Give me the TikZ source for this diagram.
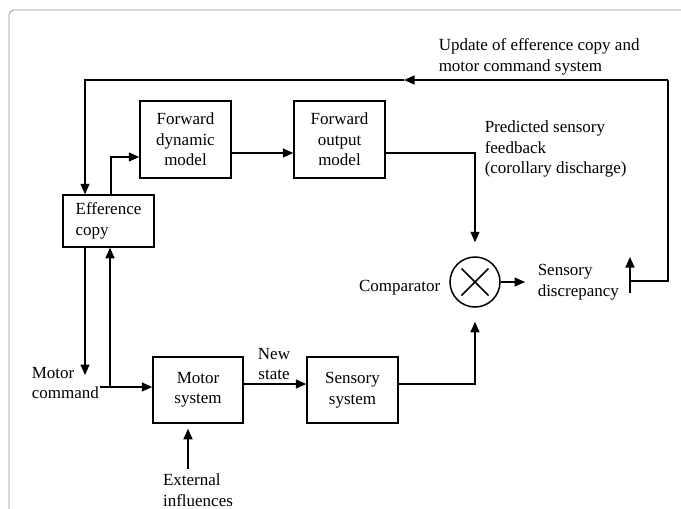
\documentclass[tikz,border=0pt]{standalone}
\usepackage{fontspec}
\setmainfont{Liberation Serif}
\usetikzlibrary{arrows.meta,positioning}
\definecolor{framegray}{RGB}{150,150,150}

\begin{document}
\begin{tikzpicture}[x=1pt, y=-1pt,
  font=\fontsize{17}{20.5}\selectfont, line width=1.5pt,
  arr/.style={-{Triangle[length=10.5pt,width=9pt]}},
  blockbox/.style={draw, minimum width=91pt, align=center, inner sep=0pt},
  lbl/.style={align=left, inner sep=0pt}]
\useasboundingbox (0,0) rectangle (681,509);
% Frame
\draw[framegray, line width=0.8pt, rounded corners=5pt] (9,520) -- (9,10) -- (690,10);
% Blocks
\node[blockbox, minimum height=77pt] (dyn) at (185.5,139.5) {Forward\\dynamic\\model};
\node[blockbox, minimum height=77pt] (out) at (339.5,139.5) {Forward\\output\\model};
\node[blockbox, minimum height=52pt, align=left] (eff) at (108.5,221) {Efference\\copy};
\node[blockbox, minimum width=90pt, minimum height=66pt] (motor) at (198,390) {Motor\\system};
\node[blockbox, minimum height=66pt] (sens) at (352.5,390) {Sensory\\system};
\node[draw, circle, minimum size=50pt, inner sep=0pt] (cmp) at (475,282) {};
\draw ([shift={(-13.5,-13.5)}]cmp.center) -- ([shift={(13.5,13.5)}]cmp.center);
\draw ([shift={(13.5,-13.5)}]cmp.center) -- ([shift={(-13.5,13.5)}]cmp.center);
% Labels
\node[lbl, anchor=west] (upd) at (438,57) {Update of efference copy and\\motor command system};
\node[lbl, anchor=west] (pred) at (484,149) {Predicted sensory\\feedback\\(corollary discharge)};
\node[lbl, anchor=east] (cmplbl) at (441,288) {Comparator};
\node[lbl, anchor=west, inner xsep=12pt] (disc) at (525,282) {Sensory\\discrepancy};
\node[lbl, anchor=west] (cmd) at (31,383) {Motor\\command};
\node[lbl, align=center] (state) at (274,364) {New\\state};
\node[lbl, inner ysep=4pt] (ext) at (198,490) {External\\influences};
% Helper points
\coordinate (rowA) at (0,153);
\coordinate (rowB) at (0,384);
\coordinate (rowC) at (0,157);
\coordinate (rowD) at (0,387);
\coordinate (split) at (110,387);
\coordinate (cmdEnd) at (85,375);
\coordinate (fbL) at (630,281);
\coordinate (fbR) at (668,80);
\coordinate (fbMid) at (404,80);
\coordinate (fbTop) at (630,257);
\coordinate (fbBot) at (630,293);
% Forward path
\draw[arr] (dyn.east |- rowA) -- (out.west |- rowA);
\draw[arr, shorten >=14pt] (out.east |- rowA) -| (cmp.north);
\draw[arr] (motor.east |- rowB) -- (sens.west |- rowB);
\draw[arr, shorten >=14pt] (sens.east |- rowB) -| (cmp.south);
\draw[arr] (cmp.east) -- (disc.west);
% Update loop
\draw[arr] (fbBot) -- (fbTop);
\draw (fbL) -| (fbR);
\draw[arr] (fbR) -- (fbMid);
\draw[arr] (fbMid) -| (cmdEnd |- eff.north);
\draw[arr] ([xshift=2.5pt]eff.north) |- (dyn.west |- rowC);
% Motor command
\draw[arr] (cmdEnd |- eff.south) -- (cmdEnd);
\draw[arr] (cmd.east |- rowD) -- (motor.west |- rowD);
\draw[arr] (split) -- (split |- eff.south);
\draw[arr, shorten >=5pt] ([xshift=-10pt]ext.north) -- ([xshift=-10pt]motor.south);
\end{tikzpicture}
\end{document}
